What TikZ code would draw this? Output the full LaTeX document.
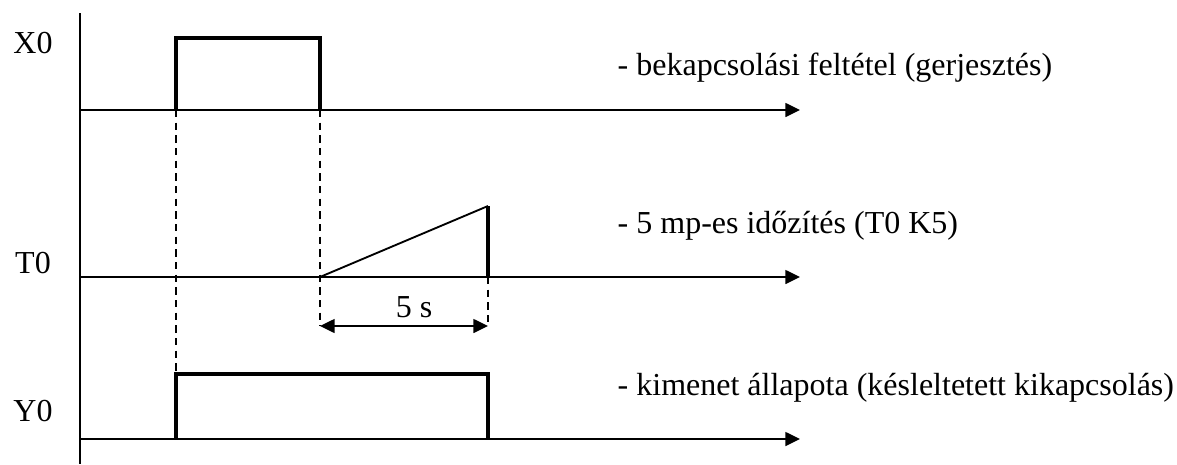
\documentclass[tikz,border=0pt]{standalone}
\usepackage{fontspec}
\setmainfont{Liberation Serif}
\usetikzlibrary{arrows.meta,positioning}

\begin{document}
\begin{tikzpicture}[
    x=0.75pt, y=-0.75pt,
    axis/.style={line width=1.1pt, -{Triangle[length=11pt,width=10.5pt]}},
    signal/.style={line width=2.3pt, line join=miter},
    guide/.style={line width=1pt, dash pattern=on 5.5pt off 4pt},
    dimline/.style={line width=1.1pt, {Triangle[length=11pt,width=10.5pt]}-{Triangle[length=11pt,width=10.5pt]}},
    sig/.style={font=\fontsize{24}{28}\selectfont, anchor=base},
    note/.style={font=\fontsize{24}{28}\selectfont, anchor=base west}
]
\useasboundingbox (0,0) rectangle (1177,464);

% Coordinates
\coordinate (top) at (80,13);
\coordinate (bot) at (80,464);
\coordinate (x0a) at (80,110);  \coordinate (x0b) at (800,110);
\coordinate (t0a) at (80,277);  \coordinate (t0b) at (800,277);
\coordinate (y0a) at (80,439);  \coordinate (y0b) at (800,439);
\coordinate (on) at (176,110);  \coordinate (off) at (320,110);
\coordinate (start) at (320,277); \coordinate (end) at (488,277);
\coordinate (peak) at (488,206);
\coordinate (yon) at (176,439); \coordinate (yoff) at (488,439);
\coordinate (da) at (320,326);  \coordinate (db) at (488,326);

% Axes
\draw [line width=1.1pt] (top) -- (bot);
\draw [axis] (x0a) -- (x0b);
\draw [axis] (t0a) -- (t0b);
\draw [axis] (y0a) -- (y0b);

% Signals
\draw [signal] (on) |- (off |- 0,38) -- (off);
\draw [line width=1.4pt] (start) -- (peak);
\draw [signal] (peak) -- (end);
\draw [signal] (yon) |- (yoff |- 0,374) -- (yoff);

% Guides
\draw [guide] (on) -- (176,374);
\draw [guide] (off) -- (da);
\draw [guide] (end) -- (db);
\draw [dimline] (da) -- (db);

% Labels
\node [sig] (lx0) at (33,53) {X0};
\node [sig] (lt0) at (33,273) {T0};
\node [sig] (ly0) at (33,421) {Y0};
\node [sig] (ldt) at (414,317) {5 s};
\node [note] (nx0) at (613,75) {- bekapcsolási feltétel (gerjesztés)};
\node [note] (nt0) at (613,233) {- 5 mp-es időzítés (T0 K5)};
\node [note] (ny0) at (613,395) {- kimenet állapota (késleltetett kikapcsolás)};

\end{tikzpicture}
\end{document}
